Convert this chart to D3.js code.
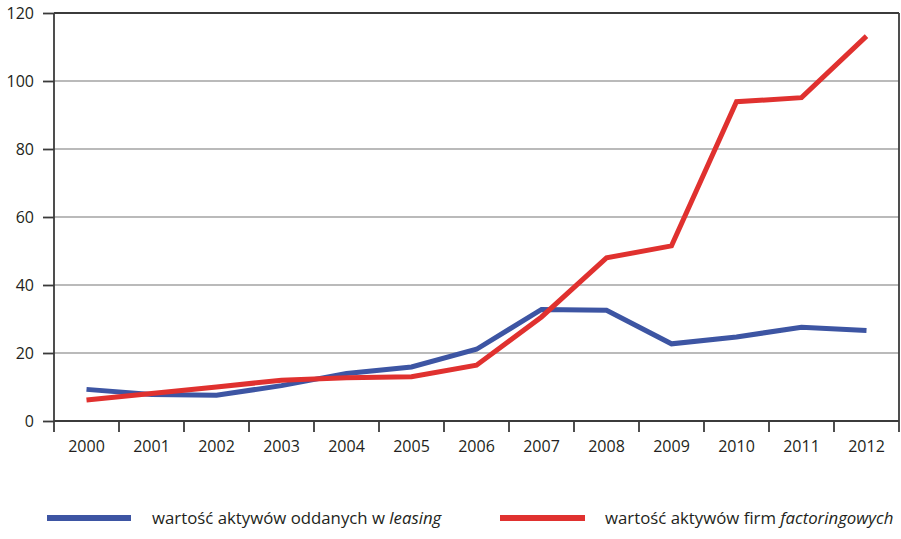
<!DOCTYPE html>
<html>
<head>
<meta charset="utf-8">
<script src="https://cdn.jsdelivr.net/npm/d3@7"></script>
<style>
  body { margin: 0; background: #fff; }
  svg { display: block; }
  text { font-family: "Open Sans", sans-serif; fill: #231f20; }
</style>
</head>
<body>
<div id="chart"></div>
<script>
// Years on the category axis
const years = ["2000","2001","2002","2003","2004","2005","2006","2007","2008","2009","2010","2011","2012"];
// Value of assets leased out
const leasing = [9.3, 7.8, 7.6, 10.4, 14.0, 15.9, 21.1, 32.8, 32.6, 22.7, 24.7, 27.6, 26.6];
// Value of factoring companies' assets
const factoring = [6.2, 8.1, 10.0, 12.0, 12.7, 13.0, 16.4, 30.6, 48.0, 51.5, 93.9, 95.1, 113.2];
// Y axis ticks
const yTicks = [0, 20, 40, 60, 80, 100, 120];

const series = [
  { name: "wartość aktywów oddanych w ", italic: "leasing", values: leasing, color: "#3d55a3" },
  { name: "wartość aktywów firm ", italic: "factoringowych", values: factoring, color: "#e0312f" }
];

const W = 901, H = 539;
const plotL = 54, plotR = 899, plotT = 13, plotB = 421;

const svg = d3.select("#chart").append("svg").attr("width", W).attr("height", H);

const x = d3.scaleBand().domain(years).range([plotL, plotR]).padding(0);
const y = d3.scaleLinear().domain([0, 120]).range([plotB, plotT]);

// Horizontal gridlines
svg.append("g").selectAll("line")
  .data(yTicks.filter(t => t > 0 && t < 120))
  .join("line")
  .attr("x1", plotL).attr("x2", plotR)
  .attr("y1", d => y(d)).attr("y2", d => y(d))
  .attr("stroke", "#a3a3a3").attr("stroke-width", 1.5);

// Frame: top and right edges
const frameColor = "#3b3b3b";
svg.append("line").attr("x1", plotL).attr("x2", plotR).attr("y1", y(120)).attr("y2", y(120))
  .attr("stroke", frameColor).attr("stroke-width", 1.8);
svg.append("line").attr("x1", plotR).attr("x2", plotR).attr("y1", plotT).attr("y2", plotB + 11)
  .attr("stroke", frameColor).attr("stroke-width", 1.8);

// Y axis
const yAxis = svg.append("g").attr("transform", `translate(${plotL},0)`)
  .call(d3.axisLeft(y).tickValues(yTicks).tickSize(11).tickPadding(9).tickFormat(d3.format("d")));
yAxis.select(".domain").attr("d", `M0,${plotT}V${plotB + 11}`).attr("stroke", frameColor).attr("stroke-width", 1.8);
yAxis.selectAll(".tick line").attr("stroke", frameColor).attr("stroke-width", 1.8);
yAxis.selectAll(".tick text").attr("font-size", 16).attr("fill", "#231f20")
  .style("font-family", "'Open Sans', sans-serif");

// X axis: ticks between categories, labels at band centres
const xAxis = svg.append("g").attr("transform", `translate(0,${plotB})`);
xAxis.append("line").attr("x1", plotL).attr("x2", plotR).attr("y1", 0).attr("y2", 0)
  .attr("stroke", frameColor).attr("stroke-width", 1.8);
xAxis.selectAll("line.tk")
  .data(years.slice(1))
  .join("line").attr("class", "tk")
  .attr("x1", d => x(d)).attr("x2", d => x(d))
  .attr("y1", 0).attr("y2", 11)
  .attr("stroke", frameColor).attr("stroke-width", 1.8);
xAxis.selectAll("text")
  .data(years)
  .join("text")
  .attr("x", d => x(d) + x.bandwidth() / 2)
  .attr("y", 31)
  .attr("text-anchor", "middle")
  .attr("font-size", 16)
  .text(d => d);

// Series lines
const line = d3.line()
  .x((d, i) => x(years[i]) + x.bandwidth() / 2)
  .y(d => y(d));

svg.append("g").selectAll("path")
  .data(series)
  .join("path")
  .attr("d", d => line(d.values))
  .attr("fill", "none")
  .attr("stroke", d => d.color)
  .attr("stroke-width", 5)
  .attr("stroke-linejoin", "miter");

// Legend
const legendPos = [{ x1: 47, x2: 131, tx: 152 }, { x1: 500, x2: 585, tx: 605 }];
const lg = svg.append("g").selectAll("g").data(series).join("g");
lg.append("line")
  .attr("x1", (d, i) => legendPos[i].x1).attr("x2", (d, i) => legendPos[i].x2)
  .attr("y1", 518).attr("y2", 518)
  .attr("stroke", d => d.color).attr("stroke-width", 6);
const lt = lg.append("text")
  .attr("x", (d, i) => legendPos[i].tx).attr("y", 524)
  .attr("font-size", 16.8);
lt.append("tspan").text(d => d.name);
lt.append("tspan").attr("font-style", "italic").text(d => d.italic);
</script>
</body>
</html>
